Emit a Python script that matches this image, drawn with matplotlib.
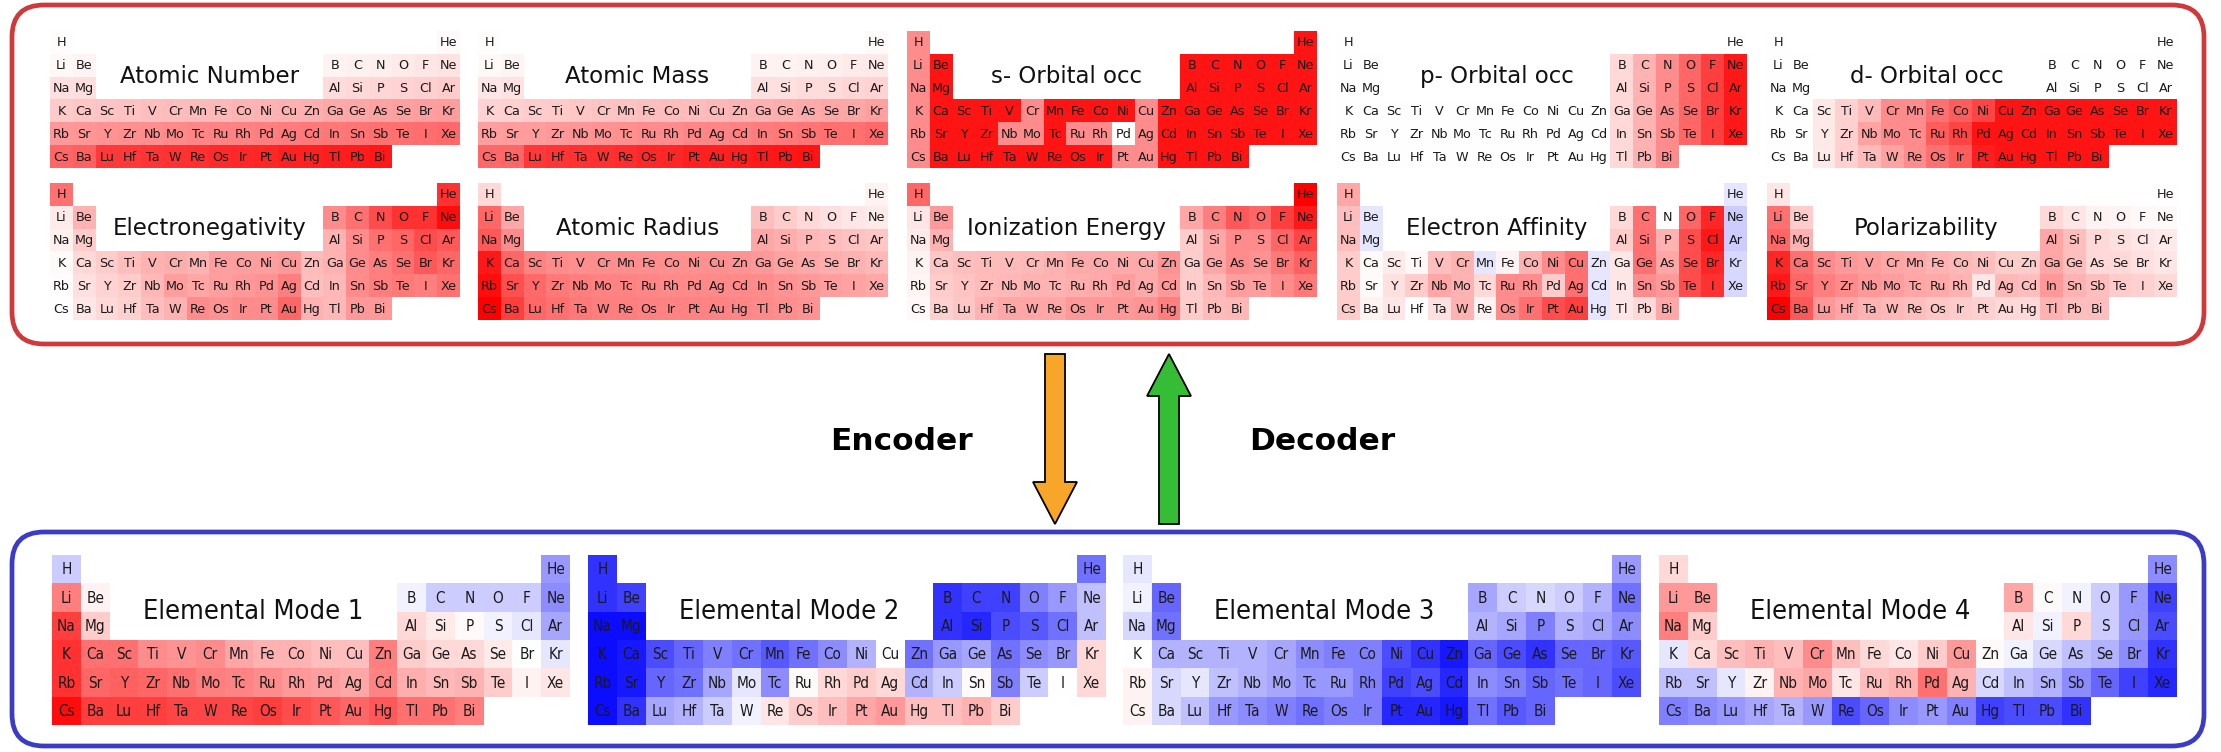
import numpy as np
import matplotlib
matplotlib.use("Agg")
import matplotlib.pyplot as plt
from matplotlib.patches import FancyBboxPatch, FancyArrow

# ---------------- data ----------------
elements = ["H", "He",
            "Li", "Be", "B", "C", "N", "O", "F", "Ne",
            "Na", "Mg", "Al", "Si", "P", "S", "Cl", "Ar",
            "K", "Ca", "Sc", "Ti", "V", "Cr", "Mn", "Fe", "Co", "Ni", "Cu", "Zn", "Ga", "Ge", "As", "Se", "Br", "Kr",
            "Rb", "Sr", "Y", "Zr", "Nb", "Mo", "Tc", "Ru", "Rh", "Pd", "Ag", "Cd", "In", "Sn", "Sb", "Te", "I", "Xe",
            "Cs", "Ba", "Lu", "Hf", "Ta", "W", "Re", "Os", "Ir", "Pt", "Au", "Hg", "Tl", "Pb", "Bi"]

top_titles = ["Atomic Number", "Atomic Mass", "s- Orbital occ", "p- Orbital occ", "d- Orbital occ",
              "Electronegativity", "Atomic Radius", "Ionization Energy", "Electron Affinity", "Polarizability"]
mode_titles = ["Elemental Mode 1", "Elemental Mode 2", "Elemental Mode 3", "Elemental Mode 4"]

atomic_number = [0.01, 0.02,
                 0.03, 0.04, 0.05, 0.06, 0.07, 0.08, 0.10, 0.11,
                 0.12, 0.13, 0.14, 0.15, 0.16, 0.17, 0.18, 0.20,
                 0.21, 0.22, 0.23, 0.24, 0.25, 0.26, 0.27, 0.28, 0.29, 0.30, 0.31, 0.32, 0.34, 0.35, 0.36, 0.37, 0.38, 0.39,
                 0.40, 0.41, 0.42, 0.43, 0.44, 0.46, 0.47, 0.48, 0.49, 0.50, 0.51, 0.52, 0.53, 0.54, 0.55, 0.56, 0.57, 0.58,
                 0.60, 0.61, 0.77, 0.78, 0.79, 0.80, 0.81, 0.83, 0.84, 0.85, 0.86, 0.87, 0.88, 0.89, 0.90]
atomic_mass = [0.01, 0.02,
               0.03, 0.04, 0.05, 0.05, 0.06, 0.07, 0.08, 0.09,
               0.10, 0.11, 0.12, 0.12, 0.14, 0.14, 0.16, 0.17,
               0.17, 0.18, 0.20, 0.21, 0.22, 0.23, 0.24, 0.25, 0.26, 0.26, 0.28, 0.29, 0.31, 0.32, 0.33, 0.35, 0.35, 0.37,
               0.38, 0.39, 0.39, 0.40, 0.41, 0.42, 0.43, 0.45, 0.45, 0.47, 0.47, 0.49, 0.51, 0.52, 0.54, 0.56, 0.56, 0.58,
               0.59, 0.60, 0.77, 0.79, 0.80, 0.81, 0.82, 0.84, 0.85, 0.86, 0.87, 0.88, 0.90, 0.91, 0.92]
s_orbital = [0.45, 0.92,
             0.45, 0.92, 0.92, 0.92, 0.92, 0.92, 0.92, 0.92,
             0.45, 0.92, 0.92, 0.92, 0.92, 0.92, 0.92, 0.92,
             0.45, 0.92, 0.92, 0.92, 0.92, 0.45, 0.92, 0.92, 0.92, 0.92, 0.45, 0.92, 0.92, 0.92, 0.92, 0.92, 0.92, 0.92,
             0.45, 0.92, 0.92, 0.92, 0.45, 0.45, 0.92, 0.45, 0.45, 0.00, 0.45, 0.92, 0.92, 0.92, 0.92, 0.92, 0.92, 0.92,
             0.45, 0.92, 0.92, 0.92, 0.92, 0.92, 0.92, 0.92, 0.92, 0.45, 0.45, 0.92, 0.92, 0.92, 0.92]
p_orbital = [0.00, 0.00,
             0.00, 0.00, 0.15, 0.30, 0.45, 0.60, 0.75, 0.90,
             0.00, 0.00, 0.15, 0.30, 0.45, 0.60, 0.75, 0.90,
             0, 0, 0, 0, 0, 0, 0, 0, 0, 0, 0, 0, 0.15, 0.30, 0.45, 0.60, 0.75, 0.90,
             0, 0, 0, 0, 0, 0, 0, 0, 0, 0, 0, 0, 0.15, 0.30, 0.45, 0.60, 0.75, 0.90,
             0, 0, 0, 0, 0, 0, 0, 0, 0, 0, 0, 0, 0.15, 0.30, 0.45]
d_orbital = [0.00, 0.00,
             0.00, 0.00, 0.00, 0.00, 0.00, 0.00, 0.00, 0.00,
             0.00, 0.00, 0.00, 0.00, 0.00, 0.00, 0.00, 0.00,
             0.00, 0.00, 0.09, 0.18, 0.27, 0.45, 0.45, 0.55, 0.64, 0.73, 0.92, 0.92, 0.92, 0.92, 0.92, 0.92, 0.92, 0.92,
             0.00, 0.00, 0.09, 0.18, 0.36, 0.45, 0.45, 0.64, 0.73, 0.92, 0.92, 0.92, 0.92, 0.92, 0.92, 0.92, 0.92, 0.92,
             0.00, 0.00, 0.09, 0.18, 0.27, 0.36, 0.45, 0.55, 0.64, 0.88, 0.92, 0.92, 0.92, 0.92, 0.92]
electronegativity = [0.55, 0.80,
                     0.08, 0.30, 0.45, 0.55, 0.70, 0.80, 0.80, 0.95,
                     0.06, 0.20, 0.30, 0.45, 0.55, 0.60, 0.70, 0.65,
                     0.02, 0.15, 0.20, 0.25, 0.30, 0.32, 0.30, 0.38, 0.38, 0.38, 0.40, 0.27, 0.30, 0.45, 0.50, 0.55, 0.65, 0.60,
                     0.01, 0.12, 0.17, 0.20, 0.28, 0.38, 0.35, 0.38, 0.40, 0.42, 0.50, 0.25, 0.28, 0.45, 0.50, 0.52, 0.50, 0.55,
                     0.00, 0.10, 0.15, 0.18, 0.25, 0.30, 0.45, 0.42, 0.45, 0.45, 0.60, 0.30, 0.28, 0.40, 0.40]
atomic_radius = [0.15, 0.05,
                 0.60, 0.35, 0.25, 0.20, 0.15, 0.12, 0.10, 0.08,
                 0.65, 0.45, 0.35, 0.32, 0.28, 0.26, 0.24, 0.22,
                 0.90, 0.60, 0.48, 0.45, 0.44, 0.44, 0.44, 0.44, 0.43, 0.43, 0.43, 0.42, 0.40, 0.36, 0.34, 0.32, 0.30, 0.28,
                 0.95, 0.68, 0.58, 0.52, 0.50, 0.48, 0.48, 0.47, 0.46, 0.46, 0.46, 0.46, 0.45, 0.42, 0.40, 0.38, 0.36, 0.34,
                 1.00, 0.75, 0.60, 0.55, 0.52, 0.50, 0.50, 0.49, 0.48, 0.48, 0.48, 0.47, 0.46, 0.44, 0.42]
ionization_energy = [0.60, 1.00,
                     0.10, 0.40, 0.35, 0.50, 0.65, 0.60, 0.75, 0.90,
                     0.08, 0.30, 0.20, 0.35, 0.45, 0.45, 0.60, 0.72,
                     0.05, 0.22, 0.25, 0.27, 0.27, 0.28, 0.30, 0.33, 0.33, 0.33, 0.33, 0.42, 0.20, 0.35, 0.45, 0.42, 0.52, 0.62,
                     0.04, 0.20, 0.23, 0.27, 0.28, 0.30, 0.30, 0.32, 0.33, 0.38, 0.33, 0.40, 0.20, 0.28, 0.38, 0.38, 0.45, 0.52,
                     0.03, 0.18, 0.22, 0.30, 0.35, 0.35, 0.35, 0.40, 0.40, 0.40, 0.42, 0.50, 0.20, 0.27, 0.28]
electron_affinity = [0.35, -0.10,
                     0.25, -0.10, 0.15, 0.55, 0.00, 0.60, 0.85, -0.20,
                     0.25, -0.10, 0.20, 0.55, 0.30, 0.70, 0.90, -0.20,
                     0.20, 0.02, 0.08, 0.03, 0.25, 0.30, -0.10, 0.05, 0.30, 0.45, 0.55, -0.10, 0.10, 0.55, 0.35, 0.70, 0.85, -0.15,
                     0.20, 0.02, 0.12, 0.20, 0.35, 0.30, 0.15, 0.45, 0.45, 0.20, 0.55, -0.10, 0.10, 0.45, 0.40, 0.70, 0.80, -0.15,
                     0.20, 0.05, 0.10, 0.00, 0.12, 0.30, 0.05, 0.45, 0.55, 0.70, 0.75, -0.10, 0.10, 0.15, 0.35]
polarizability = [0.10, 0.00,
                  0.55, 0.20, 0.15, 0.10, 0.05, 0.04, 0.03, 0.02,
                  0.60, 0.30, 0.35, 0.25, 0.15, 0.12, 0.10, 0.08,
                  0.85, 0.55, 0.45, 0.40, 0.38, 0.35, 0.33, 0.30, 0.28, 0.25, 0.20, 0.20, 0.35, 0.25, 0.15, 0.15, 0.12, 0.10,
                  0.90, 0.60, 0.50, 0.45, 0.40, 0.38, 0.35, 0.33, 0.30, 0.10, 0.28, 0.25, 0.40, 0.30, 0.25, 0.20, 0.18, 0.15,
                  1.00, 0.65, 0.40, 0.35, 0.30, 0.28, 0.25, 0.22, 0.20, 0.18, 0.15, 0.15, 0.30, 0.25, 0.25]
mode1 = [-0.20, -0.40,
         0.50, 0.05, -0.05, -0.20, -0.20, -0.20, -0.20, -0.45,
         0.75, 0.20, 0.15, 0.08, 0.02, -0.05, -0.10, -0.35,
         0.80, 0.55, 0.55, 0.45, 0.42, 0.45, 0.35, 0.30, 0.30, 0.25, 0.25, 0.50, 0.20, 0.15, 0.15, 0.08, 0.00, -0.10,
         0.80, 0.60, 0.62, 0.60, 0.55, 0.50, 0.48, 0.45, 0.40, 0.38, 0.35, 0.48, 0.32, 0.28, 0.30, 0.20, 0.05, 0.10,
         0.95, 0.75, 0.75, 0.75, 0.72, 0.72, 0.72, 0.75, 0.70, 0.65, 0.60, 0.65, 0.55, 0.55, 0.50]
mode2 = [-0.80, -0.55,
         -0.80, -0.75, -0.80, -0.75, -0.75, -0.50, -0.40, -0.25,
         -0.95, -0.95, -0.80, -0.85, -0.70, -0.65, -0.55, -0.25,
         -0.95, -0.90, -0.70, -0.60, -0.50, -0.55, -0.65, -0.55, -0.45, -0.30, 0.00, -0.55, -0.40, -0.35, -0.55, -0.45, -0.40, 0.15,
         -0.95, -0.90, -0.60, -0.55, -0.35, -0.10, -0.45, 0.02, 0.15, 0.20, 0.15, -0.30, -0.20, 0.02, -0.50, -0.20, 0.00, 0.15,
         -0.95, -0.80, -0.35, -0.30, -0.20, -0.05, 0.10, 0.20, 0.25, 0.35, 0.40, 0.25, 0.25, 0.30, 0.20]
mode3 = [-0.10, -0.40,
         -0.05, -0.60, -0.35, -0.20, -0.15, -0.20, -0.30, -0.55,
         -0.15, -0.55, -0.30, -0.35, -0.50, -0.30, -0.35, -0.45,
         0.00, -0.30, -0.30, -0.30, -0.30, -0.35, -0.45, -0.50, -0.50, -0.70, -0.80, -0.90, -0.60, -0.70, -0.80, -0.60, -0.60, -0.65,
         0.05, -0.15, -0.10, -0.25, -0.30, -0.35, -0.40, -0.40, -0.50, -0.75, -0.70, -0.85, -0.45, -0.50, -0.60, -0.55, -0.60, -0.70,
         0.05, -0.15, -0.25, -0.40, -0.45, -0.50, -0.55, -0.50, -0.50, -0.85, -0.85, -0.90, -0.55, -0.65, -0.60]
mode4 = [0.15, -0.45,
         0.40, 0.40, 0.35, 0.02, -0.05, -0.20, -0.40, -0.75,
         0.50, 0.20, 0.10, -0.05, 0.15, -0.20, -0.40, -0.70,
         -0.10, 0.15, 0.25, 0.30, 0.25, 0.45, 0.25, 0.15, 0.10, 0.20, 0.40, 0.02, -0.05, -0.15, -0.25, -0.30, -0.45, -0.80,
         -0.25, -0.25, -0.10, 0.05, 0.30, 0.35, 0.10, 0.25, 0.30, 0.55, 0.30, -0.15, -0.25, -0.30, -0.45, -0.60, -0.75, -0.85,
         -0.50, -0.45, -0.40, -0.35, -0.30, -0.40, -0.70, -0.60, -0.45, -0.40, -0.50, -0.75, -0.70, -0.70, -0.80]

top_values = [atomic_number, atomic_mass, s_orbital, p_orbital, d_orbital,
              electronegativity, atomic_radius, ionization_energy, electron_affinity, polarizability]
mode_values = [mode1, mode2, mode3, mode4]


# ---------------- layout helpers ----------------
def grid_positions():
    pos = [(0, 0), (0, 17)]
    for r in (1, 2):
        pos += [(r, 0), (r, 1)] + [(r, c) for c in range(12, 18)]
    for r in (3, 4):
        pos += [(r, c) for c in range(18)]
    pos += [(5, c) for c in range(15)]
    return pos


POS = grid_positions()
W, H = 2221, 752
fig = plt.figure(figsize=(W / 100, H / 100), dpi=100)
fig.patch.set_facecolor("white")


def px_axes(left, top, width, height):
    return fig.add_axes([left / W, 1 - (top + height) / H, width / W, height / H])


def draw_table(ax, values, title, fs_el, fs_title, stretch="normal"):
    grid = np.full((6, 18), np.nan)
    for (r, c), v in zip(POS, values):
        grid[r, c] = v
    ax.imshow(np.ma.masked_invalid(grid), cmap="bwr", vmin=-1, vmax=1,
              extent=(0, 18, 6, 0), aspect="auto", interpolation="nearest")
    for (r, c), name in zip(POS, elements):
        ax.text(c + 0.5, r + 0.52, name, ha="center", va="center",
                fontsize=fs_el, color="#1a1a1a", fontstretch=stretch)
    ax.text(7.0, 2.0, title, ha="center", va="center", fontsize=fs_title,
            color="#111111", fontstretch=stretch)
    ax.set_xlim(0, 18)
    ax.set_ylim(6, 0)
    ax.axis("off")


# overlay in pixel units for frames and arrows
ov = fig.add_axes([0, 0, 1, 1])
ov.set_xlim(0, W)
ov.set_ylim(H, 0)
ov.axis("off")
ov.add_patch(FancyBboxPatch((12, 5), 2192, 339, boxstyle="round,pad=0,rounding_size=32",
                            fill=False, ec="#d0393b", lw=3.4))
ov.add_patch(FancyBboxPatch((12, 532), 2192, 214, boxstyle="round,pad=0,rounding_size=32",
                            fill=False, ec="#3b3bc6", lw=3.4))
ov.add_patch(FancyArrow(1055, 354, 0, 170, width=20, head_width=44, head_length=42,
                        length_includes_head=True, fc="#f7a629", ec="black", lw=1.3))
ov.add_patch(FancyArrow(1169, 524, 0, -170, width=20, head_width=44, head_length=42,
                        length_includes_head=True, fc="#36bd36", ec="black", lw=1.3))
ov.text(901, 441, "Encoder", ha="center", va="center", fontsize=22.5, fontweight="bold", color="black")
ov.text(1322, 441, "Decoder", ha="center", va="center", fontsize=22.5, fontweight="bold", color="black")

# top tables
top_lefts = [50, 478, 907, 1337, 1767]
top_tops = [31, 183]
for i, (vals, title) in enumerate(zip(top_values, top_titles)):
    ax = px_axes(top_lefts[i % 5], top_tops[i // 5], 410, 137)
    draw_table(ax, vals, title, 9.2, 16.5)

# bottom tables
bot_lefts = [52, 588, 1123, 1659]
for i, (vals, title) in enumerate(zip(mode_values, mode_titles)):
    ax = px_axes(bot_lefts[i], 555, 518, 170)
    draw_table(ax, vals, title, 11, 19.5, stretch="condensed")

fig.savefig("out.png", dpi=100, facecolor="white")
